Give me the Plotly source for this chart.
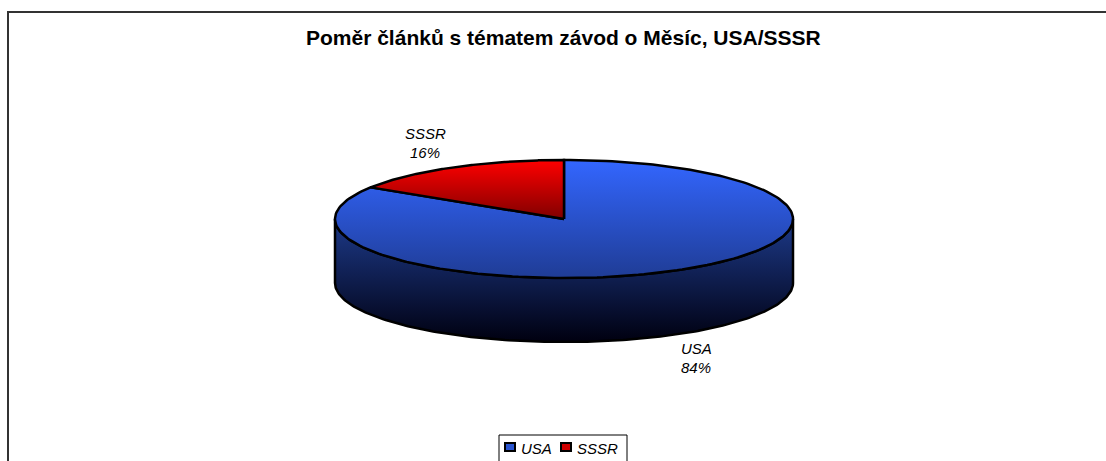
"""
Pomer clanku s tematem zavod o Mesic - 3D look pie built from filled scatter traces
"""

import numpy as np
import plotly.graph_objects as go

categories = ['USA', 'SSSR']
shares = [84, 16]
title_text = 'Poměr článků s tématem závod o Měsíc, USA/SSSR'

W, H = 1106, 461
CX, CY = 564, 219      # centre of the pie top
RX, RY = 229, 59       # ellipse radii
DEPTH = 64             # height of the pie wall
FONT = 'Liberation Sans'
OUTLINE = dict(color='black', width=2.5)


def arc(start, end, drop=0, n=200):
    # angles in degrees, clockwise from 12 o'clock
    t = np.radians(np.linspace(start, end, n))
    return CX + RX * np.sin(t), CY - RY * np.cos(t) + drop


def slice_xy(start, end):
    x, y = arc(start, end)
    return np.r_[CX, x, CX], np.r_[CY, y, CY]


fig = go.Figure()

# pie wall, only the front half is visible
xt, yt = arc(90, 270)
xb, yb = arc(270, 90, drop=DEPTH)
fig.add_trace(go.Scatter(
    x=np.r_[xt, xb, xt[0]], y=np.r_[yt, yb, yt[0]],
    mode='lines', line=OUTLINE,
    fill='toself', fillcolor='#14285f',
    fillgradient=dict(type='vertical', colorscale=[[0, '#000010'], [1, '#1d3a8a']]),
    hoverinfo='skip', showlegend=False,
))

slice_colors = {
    'USA': [[0, '#1f3c95'], [1, '#3366ff']],
    'SSSR': [[0, '#800000'], [1, '#ff0000']],
}
start = 0
for name, share in zip(categories, shares):
    end = start + share / sum(shares) * 360
    x, y = slice_xy(start, end)
    fig.add_trace(go.Scatter(
        x=x, y=y, name=name,
        mode='lines', line=OUTLINE,
        fill='toself', fillcolor=slice_colors[name][1][1],
        fillgradient=dict(type='vertical', colorscale=slice_colors[name]),
        hovertemplate=f'{name}: {share}%<extra></extra>', showlegend=False,
    ))
    start = end

annotations = []


def add_text(x, y, text, size=15, bold=False, italic=True, anchor='center'):
    label = f'<b>{text}</b>' if bold else text
    annotations.append(dict(
        x=x, y=y, xref='x', yref='y', text=label, showarrow=False,
        xanchor=anchor, yanchor='middle',
        font=dict(family=FONT, size=size, color='black',
                  style='italic' if italic else 'normal'),
    ))


add_text(563, 37, title_text, size=21, bold=True, italic=False)
add_text(696, 348, categories[0])
add_text(696, 367, f'{shares[0]}%')
add_text(425, 133, categories[1])
add_text(425, 152, f'{shares[1]}%')
add_text(519, 448, categories[0], anchor='left')
add_text(575, 448, categories[1], anchor='left')

frame = dict(color='#333333', width=2)
box = dict(color='black', width=1)
swatch = dict(color='black', width=2)
shapes = [
    # chart frame, runs off the page on the right and at the bottom
    dict(type='rect', x0=8, x1=W + 10, y0=12, y1=H + 10, line=frame),
    # legend box
    dict(type='rect', x0=499, x1=627, y0=435, y1=H + 10, line=box, fillcolor='white'),
    dict(type='rect', x0=505, x1=515, y0=443, y1=451, line=swatch, fillcolor='#2a55d0'),
    dict(type='rect', x0=561, x1=571, y0=443, y1=451, line=swatch, fillcolor='#d00000'),
]

fig.update_layout(
    width=W, height=H,
    margin=dict(l=0, r=0, t=0, b=0),
    paper_bgcolor='white', plot_bgcolor='white',
    xaxis=dict(visible=False, range=[0, W], fixedrange=True),
    yaxis=dict(visible=False, range=[H, 0], fixedrange=True),
    annotations=annotations,
    shapes=shapes,
    showlegend=False,
)

# the page's default body margin would push the figure 8px off
fig.write_html('out.html', config={'displayModeBar': False},
               post_script="document.body.style.margin='0';document.body.style.overflow='hidden';")
